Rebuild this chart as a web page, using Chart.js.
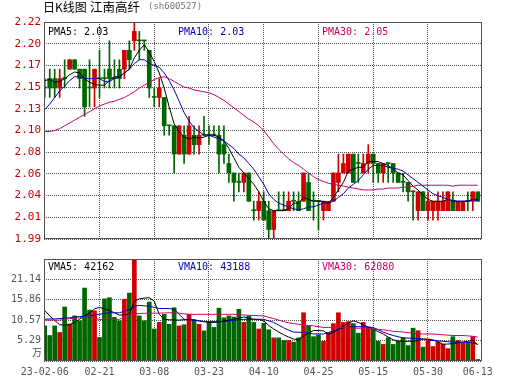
<!DOCTYPE html>
<html><head><meta charset="utf-8">
<script src="https://cdn.jsdelivr.net/npm/chart.js@4/dist/chart.umd.min.js"></script>
<style>
html,body{margin:0;padding:0;background:#fff;}
#wrap{position:relative;width:530px;height:391px;overflow:hidden;background:#fff;}
canvas{position:absolute;left:0;}
#c1{top:0;width:530px;height:250px;}
#c2{top:250px;width:530px;height:141px;}
</style></head><body>
<div id="wrap"><canvas id="c1" width="530" height="250"></canvas><canvas id="c2" width="530" height="141"></canvas></div>
<script>
// ---------- DATA ----------
const xLabels = ['23-02-06','02-21','03-08','03-23','04-10','04-25','05-15','05-30','06-13'];
const xLabelIdx = [0,11,22,33,44,55,66,77,87];
const priceTickLabels = ['1.99','2.01','2.04','2.06','2.08','2.10','2.13','2.15','2.17','2.20','2.22'];
const volTickLabels = ['','5.29','10.57','15.86','21.14',''];

const open = [2.15,2.16,2.16,2.15,2.16,2.17,2.18,2.17,2.17,2.15, 2.15,2.16,2.16,2.17,2.16,2.17,2.17,2.19,2.20,2.20,
 2.20,2.19,2.14,2.14,2.14,2.11,2.11,2.08,2.10,2.08, 2.10,2.09,2.10,2.10,2.10,2.10,2.09,2.07,2.06,2.05,
 2.05,2.06,2.02,2.02,2.03,2.02,2.00,2.02,2.02,2.02, 2.03,2.03,2.03,2.05,2.03,2.03,2.02,2.02,2.03,2.05,
 2.06,2.06,2.08,2.07,2.06,2.07,2.08,2.07,2.06,2.07, 2.07,2.06,2.05,2.05,2.04,2.02,2.04,2.02,2.02,2.02,
 2.02,2.02,2.03,2.02,2.02,2.03,2.03,2.04];
const high = [2.16,2.17,2.17,2.17,2.18,2.18,2.18,2.17,2.17,2.18, 2.17,2.19,2.17,2.20,2.18,2.18,2.19,2.20,2.22,2.21,
 2.20,2.19,2.15,2.16,2.14,2.11,2.11,2.11,2.11,2.12, 2.11,2.11,2.12,2.11,2.11,2.11,2.11,2.08,2.06,2.06,
 2.06,2.06,2.03,2.04,2.04,2.03,2.02,2.04,2.04,2.04, 2.04,2.04,2.06,2.06,2.04,2.03,2.03,2.03,2.06,2.08,
 2.08,2.08,2.08,2.08,2.08,2.09,2.08,2.07,2.07,2.07, 2.07,2.06,2.06,2.05,2.04,2.04,2.04,2.04,2.03,2.04,
 2.04,2.04,2.04,2.03,2.03,2.04,2.04,2.04];
const low = [2.14,2.14,2.14,2.14,2.15,2.17,2.17,2.15,2.12,2.13, 2.13,2.14,2.15,2.15,2.15,2.15,2.16,2.17,2.19,2.18,
 2.19,2.14,2.13,2.13,2.10,2.10,2.06,2.08,2.07,2.08, 2.08,2.08,2.10,2.09,2.10,2.06,2.07,2.05,2.03,2.04,
 2.04,2.03,2.01,2.01,2.01,1.99,1.99,2.02,2.02,2.02, 2.02,2.02,2.03,2.02,2.01,2.00,2.01,2.02,2.03,2.04,
 2.06,2.06,2.05,2.05,2.06,2.06,2.05,2.05,2.05,2.05, 2.05,2.05,2.04,2.03,2.01,2.01,2.02,2.01,2.01,2.01,
 2.02,2.02,2.02,2.02,2.02,2.02,2.02,2.03];
const close = [2.15,2.15,2.15,2.16,2.16,2.18,2.17,2.16,2.13,2.15, 2.17,2.16,2.16,2.16,2.16,2.16,2.19,2.18,2.21,2.20,
 2.20,2.15,2.14,2.15,2.11,2.11,2.08,2.11,2.08,2.11, 2.09,2.10,2.10,2.10,2.10,2.08,2.08,2.06,2.05,2.05,
 2.06,2.03,2.02,2.03,2.01,2.00,2.02,2.02,2.02,2.03, 2.03,2.02,2.06,2.02,2.03,2.03,2.03,2.03,2.06,2.06,
 2.07,2.08,2.05,2.07,2.07,2.08,2.07,2.06,2.07,2.07, 2.06,2.05,2.05,2.04,2.04,2.04,2.02,2.03,2.03,2.03,
 2.03,2.04,2.02,2.03,2.03,2.03,2.04,2.03];
const ma5 = [2.158,2.159,2.156,2.157,2.160,2.164,2.167,2.166,2.160,2.156, 2.154,2.153,2.153,2.158,2.162,2.162,2.166,2.170,2.182,2.190,
 2.196,2.188,2.178,2.166,2.150,2.130,2.112,2.104,2.098,2.096, 2.098,2.097,2.098,2.100,2.100,2.098,2.094,2.086,2.076,2.066,
 2.060,2.054,2.048,2.040,2.030,2.022,2.020,2.020,2.020,2.022, 2.028,2.028,2.034,2.032,2.030,2.030,2.030,2.028,2.034,2.042,
 2.050,2.062,2.064,2.066,2.066,2.072,2.072,2.072,2.070,2.068, 2.064,2.060,2.058,2.052,2.046,2.042,2.036,2.032,2.030,2.030,
 2.030,2.032,2.030,2.030,2.030,2.030,2.032,2.032];
const ma10 = [2.127,2.133,2.140,2.147,2.152,2.158,2.162,2.162,2.160,2.160, 2.160,2.160,2.157,2.157,2.160,2.162,2.166,2.170,2.176,2.180,
 2.180,2.176,2.174,2.172,2.166,2.158,2.148,2.136,2.124,2.115, 2.108,2.104,2.100,2.100,2.098,2.096,2.094,2.090,2.086,2.080,
 2.076,2.070,2.064,2.056,2.048,2.038,2.032,2.028,2.026,2.024, 2.022,2.021,2.022,2.024,2.024,2.026,2.028,2.028,2.030,2.034,
 2.038,2.044,2.048,2.052,2.058,2.064,2.068,2.068,2.068,2.066, 2.065,2.064,2.062,2.058,2.054,2.050,2.046,2.042,2.038,2.036,
 2.034,2.032,2.031,2.030,2.030,2.030,2.031,2.031];
const ma30 = [2.104,2.104,2.105,2.107,2.110,2.113,2.116,2.119,2.122,2.125, 2.128,2.131,2.133,2.135,2.136,2.138,2.140,2.143,2.146,2.150,
 2.153,2.156,2.159,2.161,2.162,2.160,2.157,2.154,2.151,2.150, 2.148,2.147,2.146,2.145,2.143,2.140,2.137,2.133,2.129,2.125,
 2.121,2.117,2.114,2.110,2.105,2.098,2.091,2.085,2.080,2.075, 2.071,2.068,2.064,2.060,2.056,2.053,2.051,2.049,2.048,2.047,
 2.046,2.045,2.044,2.043,2.042,2.042,2.042,2.043,2.043,2.044, 2.044,2.044,2.045,2.045,2.046,2.047,2.047,2.047,2.047,2.047,
 2.047,2.047,2.046,2.047,2.047,2.047,2.047,2.047];
// volume in 万
const vol = [9.1,6.6,9.1,7.4,14.0,9.6,11.7,10.4,18.9,13.2, 13.0,6.1,16.1,16.4,11.3,10.4,16.0,17.6,28.0,11.7,
 10.4,15.3,8.3,10.0,12.1,9.5,13.8,9.1,9.4,12.1, 10.7,9.5,7.8,10.0,8.7,13.7,11.2,11.7,11.4,13.4,
 10.0,11.7,10.0,8.3,9.8,8.1,6.0,6.0,5.3,5.3, 4.9,6.0,12.5,9.1,6.3,6.75,5.1,7.4,9.7,12.5,
 10.0,10.2,9.7,7.2,10.0,8.7,8.3,5.1,4.3,6.0, 4.3,5.1,6.0,4.0,8.5,7.85,3.6,5.7,3.75,4.9,
 4.4,3.2,6.3,5.3,4.6,4.6,6.3,0.4];
const vma5 = [13.1,11.7,10.5,9.4,9.3,9.4,10.0,10.8,11.8,12.4, 13.5,13.9,13.5,13.1,12.5,11.9,12.0,12.1,15.5,16.1,
 16.3,16.4,15.5,12.1,10.8,10.7,10.6,10.6,10.7,10.8, 10.6,10.4,10.2,10.0,10.0,10.1,10.4,10.6,10.8,11.1,
 11.4,11.1,10.8,10.8,10.4,9.2,8.3,7.5,6.8,6.2, 5.7,5.5,6.5,7.2,7.9,7.9,7.8,6.9,7.4,8.2,
 9.1,9.8,10.4,10.0,9.4,8.8,8.3,7.6,7.0,6.2, 5.5,5.2,5.1,5.1,5.1,5.4,5.7,5.6,5.5,5.0,
 4.3,4.4,4.5,4.7,4.9,5.1,5.3,4.2162];
const vma10 = [10.8,10.9,10.9,11.0,11.1,11.2,11.4,11.5,11.6,11.7, 11.9,12.1,12.3,12.5,12.5,12.5,12.9,13.4,14.2,14.4,
 14.3,14.2,13.9,13.6,13.6,13.6,13.4,12.1,10.8,10.7, 10.6,10.4,10.2,10.2,10.2,10.2,10.2,10.4,10.6,10.7,
 10.8,10.8,10.8,10.8,10.8,10.4,10.0,9.3,8.6,8.0, 7.5,7.45,7.4,7.2,7.0,7.0,7.0,7.4,7.8,8.2,
 8.6,8.8,8.9,8.9,8.9,8.8,8.7,8.1,7.5,7.0, 6.6,6.3,6.0,5.95,5.9,5.8,5.7,5.5,5.3,5.2,
 5.1,5.0,4.9,4.9,4.9,4.8,4.7,4.3188];
const vma30 = [10.6,10.6,10.6,10.6,10.8,11.0,11.1,11.2,11.3,11.4, 11.1,10.8,10.8,10.8,10.8,10.8,11.4,12.1,12.2,12.3,
 12.35,12.4,12.4,12.4,12.45,12.5,12.45,12.4,12.2,12.1, 12.1,12.1,12.1,12.1,12.1,12.1,12.1,12.1,12.1,12.0,
 11.9,11.85,11.8,11.75,11.7,11.3,11.0,10.6,10.2,9.9, 9.7,9.5,9.4,9.2,9.1,8.9,8.7,8.7,8.7,8.7,
 8.7,8.6,8.5,8.5,8.5,8.4,8.3,8.2,8.1,7.9, 7.7,7.6,7.5,7.35,7.2,7.1,7.0,7.0,7.0,6.9,
 6.8,6.7,6.6,6.6,6.6,6.5,6.4,6.208];

// ---------- STYLE ----------
const UP = '#d00000', DOWN = '#006600';
const C_MA5 = '#000000', C_MA10 = '#0000b4', C_MA30 = '#cc0066';
const GRID = '#505050';
const MONO = '"DejaVu Sans Mono", monospace';
const CJK = '"Noto Sans CJK SC", sans-serif';
const N = close.length;
const idx = close.map((_, i) => i);
const colors = idx.map(i => close[i] > open[i] ? UP : DOWN);
const XMIN = -0.15, XMAX = 87.85;
Chart.defaults.animation = false;
Chart.defaults.events = [];

function boxAndText(items){
  return {
    id: 'boxText',
    afterDraw(chart){
      const {ctx, chartArea: a} = chart;
      ctx.save();
      ctx.strokeStyle = '#505050'; ctx.lineWidth = 1;
      ctx.strokeRect(a.left + 0.5, a.top + 0.5, a.right - a.left - 1, a.bottom - a.top - 1);
      ctx.textBaseline = 'middle';
      items.forEach(t => {
        ctx.font = t.font || ('10px ' + MONO);
        ctx.fillStyle = t.color;
        ctx.textAlign = t.align || 'left';
        ctx.fillText(t.text, t.x, t.y);
      });
      ctx.restore();
    }
  };
}
const line = (data, color) => ({type: 'line', data: idx.map(i => ({x: i, y: data[i]})), borderColor: color, borderWidth: 1, pointRadius: 0, tension: 0, order: 1});
const xScaleBase = () => ({type: 'linear', min: XMIN, max: XMAX, offset: false,
  grid: {offset: false, color: GRID, drawTicks: false, lineWidth: 1},
  border: {display: false, dash: [1, 1]}});

// ---------- PRICE CHART ----------
new Chart(document.getElementById('c1'), {
  type: 'bar',
  data: {datasets: [
    {type: 'bar', data: idx.map(i => ({x: i, y: [low[i], high[i]]})), backgroundColor: colors, barThickness: 1, grouped: false, order: 3},
    {type: 'bar', data: idx.map(i => ({x: i, y: [open[i], close[i]]})), backgroundColor: colors, barThickness: 4, grouped: false, minBarLength: 1, order: 2},
    line(ma30, C_MA30), line(ma10, C_MA10), line(ma5, C_MA5)
  ]},
  options: {
    responsive: false, maintainAspectRatio: false,
    layout: {padding: {left: 0, right: 48, top: 22, bottom: 11}},
    plugins: {legend: {display: false}, tooltip: {enabled: false}},
    scales: {
      x: Object.assign(xScaleBase(), {
        ticks: {display: false},
        afterBuildTicks: s => { s.ticks = xLabelIdx.slice(1, -1).map(v => ({value: v})); },
        afterFit: s => { s.height = 0; }
      }),
      y: {min: 1.99, max: 2.22, position: 'left',
        grid: {color: GRID, drawTicks: false},
        border: {display: false, dash: [1, 1]},
        ticks: {color: '#cc0000', font: {family: MONO, size: 11}, padding: 3, callback: (v, i) => priceTickLabels[i]},
        afterBuildTicks: s => { s.ticks = priceTickLabels.map((_, k) => ({value: 1.99 + k * 0.023})); },
        afterFit: s => { s.width = 44; }
      }
    }
  },
  plugins: [boxAndText([
    {text: '日K线图', x: 43, y: 7, color: '#000', font: '12px ' + CJK},
    {text: '江南高纤', x: 90, y: 7, color: '#000', font: '12.5px ' + CJK},
    {text: '(sh600527)', x: 148, y: 7, color: '#777', font: '9px ' + MONO},
    {text: 'PMA5: ' + ma5[N-1].toFixed(2), x: 48, y: 32, color: C_MA5},
    {text: 'PMA10: ' + ma10[N-1].toFixed(2), x: 178, y: 32, color: C_MA10},
    {text: 'PMA30: ' + ma30[N-1].toFixed(2), x: 322, y: 32, color: C_MA30}
  ])]
});

// ---------- VOLUME CHART ----------
new Chart(document.getElementById('c2'), {
  type: 'bar',
  data: {datasets: [
    {type: 'bar', data: idx.map(i => ({x: i, y: vol[i]})), backgroundColor: colors, barThickness: 4, grouped: false, order: 2},
    line(vma30, C_MA30), line(vma10, C_MA10), line(vma5, C_MA5)
  ]},
  options: {
    responsive: false, maintainAspectRatio: false,
    layout: {padding: {left: 0, right: 48, top: 7, bottom: 0}},
    plugins: {legend: {display: false}, tooltip: {enabled: false}},
    scales: {
      x: Object.assign(xScaleBase(), {
        grid: {offset: false, drawTicks: false, lineWidth: 1,
          color: c => (c.tick && (c.tick.value === xLabelIdx[0] || c.tick.value === xLabelIdx[xLabelIdx.length-1])) ? 'rgba(0,0,0,0)' : GRID},
        ticks: {color: '#555', font: {family: MONO, size: 10}, padding: 5, autoSkip: false, maxRotation: 0, callback: (v, i) => xLabels[i]},
        afterBuildTicks: s => { s.ticks = xLabelIdx.map(v => ({value: v})); },
        afterFit: s => { s.height = 30; }
      }),
      y: {min: 0, max: 26.43, position: 'left',
        grid: {color: GRID, drawTicks: false},
        border: {display: false, dash: [1, 1]},
        ticks: {color: '#555', font: {family: MONO, size: 10}, padding: 3, callback: (v, i) => volTickLabels[i]},
        afterBuildTicks: s => { s.ticks = volTickLabels.map((_, k) => ({value: k * 5.286})); },
        afterFit: s => { s.width = 44; }
      }
    }
  },
  plugins: [boxAndText([
    {text: 'VMA5: ' + Math.round(vma5[N-1] * 10000), x: 48, y: 17, color: C_MA5},
    {text: 'VMA10: ' + Math.round(vma10[N-1] * 10000), x: 178, y: 17, color: C_MA10},
    {text: 'VMA30: ' + Math.round(vma30[N-1] * 10000), x: 322, y: 17, color: C_MA30},
    {text: '万', x: 42, y: 102, color: '#555', font: '10px ' + CJK, align: 'right'}
  ])]
});
</script>
</body></html>
